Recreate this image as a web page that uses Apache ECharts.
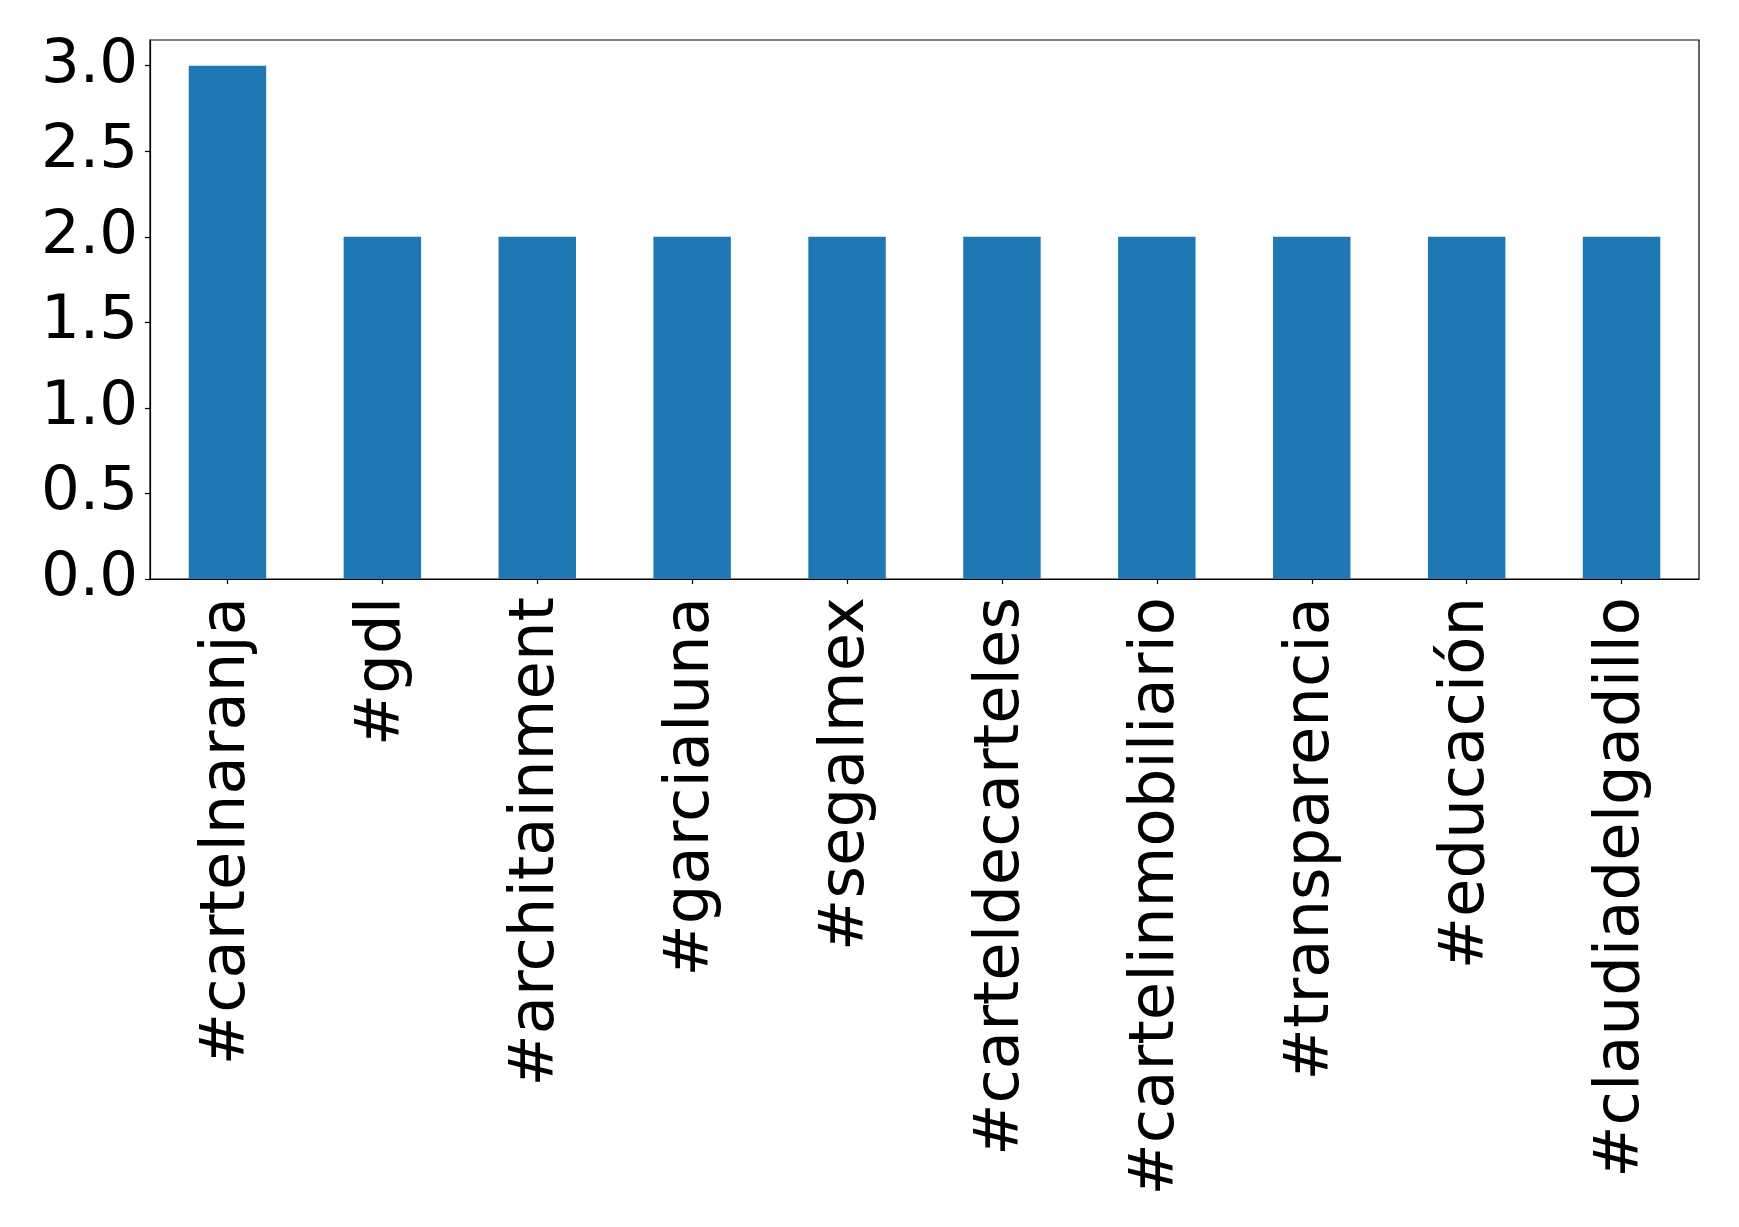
<!DOCTYPE html>
<html>
<head>
<meta charset="utf-8">
<script src="https://cdn.jsdelivr.net/npm/echarts@6/dist/echarts.min.js"></script>
<style>
html,body{margin:0;padding:0;background:#fff;}
#chart{width:1739px;height:1227px;}
</style>
</head>
<body>
<div id="chart"></div>
<script>
const categories = ['#cartelnaranja', '#gdl', '#architainment', '#garcialuna', '#segalmex', '#carteldecarteles', '#cartelinmobiliario', '#transparencia', '#educación', '#claudiadelgadillo'];
const values = [3, 2, 2, 2, 2, 2, 2, 2, 2, 2];
const yTicks = [0, 0.5, 1.0, 1.5, 2.0, 2.5, 3.0];

const chart = echarts.init(document.getElementById('chart'), null, {renderer: 'canvas'});
const font = 'DejaVu Sans';
chart.setOption({
  animation: false,
  backgroundColor: '#fff',
  grid: {left: 150, right: 40, top: 40, bottom: 648, show: true, borderColor: '#000', borderWidth: 1.2, containLabel: false},
  xAxis: {
    type: 'category',
    data: categories,
    boundaryGap: true,
    axisLine: {show: true, lineStyle: {color: '#000', width: 1.2}},
    axisTick: {show: true, alignWithLabel: true, length: 5, lineStyle: {color: '#000', width: 1.2}},
    axisLabel: {rotate: 90, margin: 18, fontFamily: font, fontSize: 62.5, color: '#000', interval: 0, padding: [8, 0, 0, 0]},
    splitLine: {show: false}
  },
  yAxis: {
    type: 'value',
    min: 0,
    max: 3.15,
    interval: 0.5,
    axisLine: {show: true, lineStyle: {color: '#000', width: 1.2}},
    axisTick: {show: true, length: 5, lineStyle: {color: '#000', width: 1.2}, customValues: yTicks},
    axisLabel: {margin: 12, fontFamily: font, fontSize: 61, color: '#000', customValues: yTicks,
      formatter: v => Number(v).toFixed(1)},
    splitLine: {show: false}
  },
  series: [{
    type: 'bar',
    data: values,
    barWidth: '50%',
    itemStyle: {color: '#1f77b4'}
  }]
});
</script>
</body>
</html>
